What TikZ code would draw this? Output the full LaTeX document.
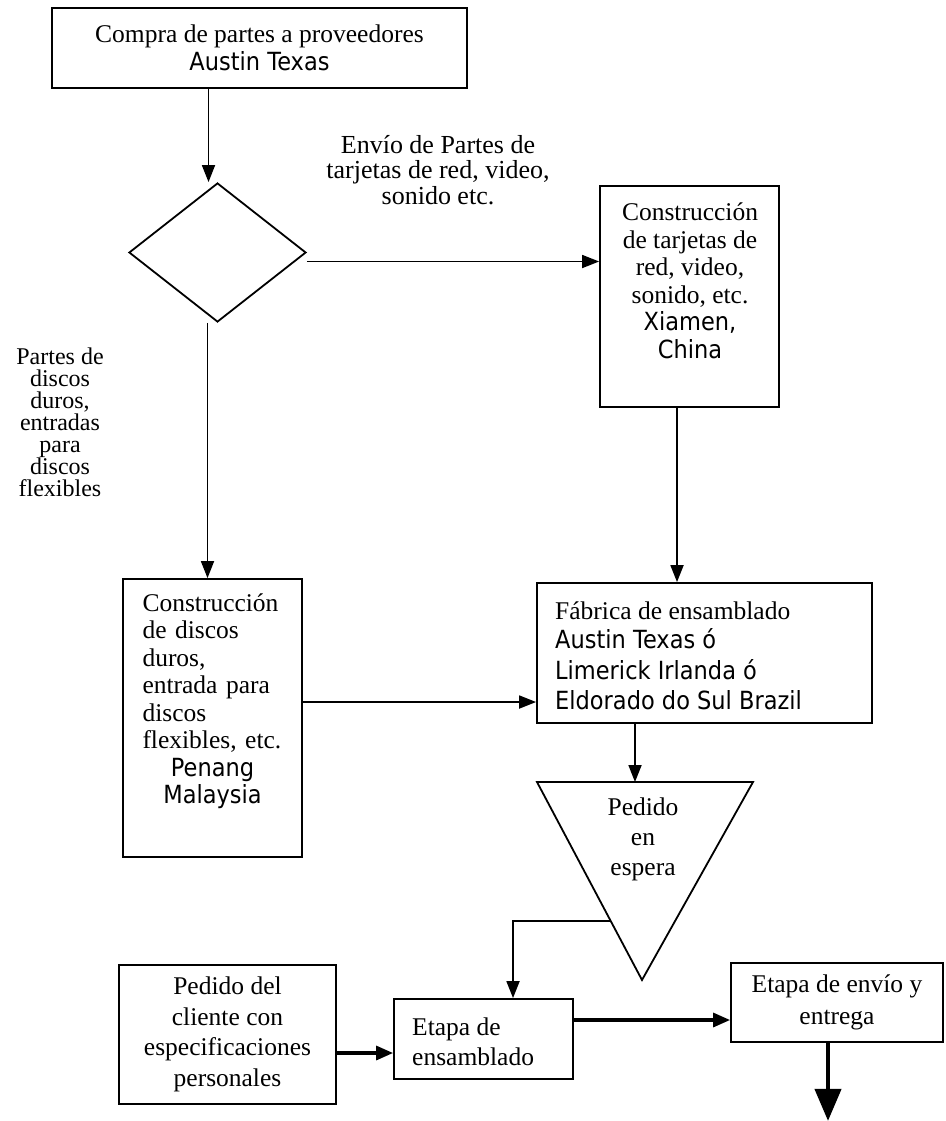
\documentclass[tikz,border=0pt]{standalone}
\usepackage{fontspec}
\setmainfont{Liberation Serif}
\newfontfamily\placefont[FakeStretch=0.9]{DejaVu Sans}
\newcommand{\plc}[1]{{\placefont\fontsize{25}{28}\selectfont #1}}
\usetikzlibrary{arrows.meta,shapes.geometric,calc}

\begin{document}
\begin{tikzpicture}[x=1pt,y=-1pt,
  every node/.style={font=\fontsize{25.5}{27.5}\selectfont, inner sep=0pt},
  box/.style={draw, line width=1.8pt, inner sep=0pt},
  arr/.style={line width=1.8pt, -{Triangle[length=17pt,width=13pt]}},
  heavy/.style={line width=3.2pt, -{Triangle[length=17pt,width=14pt]}},
  final/.style={line width=4.2pt, -{Triangle[length=32pt,width=26pt]}}
]
\useasboundingbox (0,0) rectangle (945,1121);

% --- purchase of parts
\node[box, minimum width=415pt, minimum height=80pt, align=center] (compra) at (259.5,48)
  {Compra de partes a proveedores\\\plc{Austin Texas}};

% --- decision
\node[draw, diamond, line width=1.8pt, minimum width=177pt, minimum height=139pt, inner sep=0pt] (dec) at (217.5,252.5) {};

% --- cards factory
\node[box, minimum width=179pt, minimum height=221pt] (tarjetas) at (689.5,296.5) {};
\node[align=center] (tarjetas-t) at (690,281)
  {Construcción\\de tarjetas de\\red, video,\\sonido, etc.\\\plc{Xiamen,}\\\plc{China}};

% --- disks factory
\node[box, minimum width=179pt, minimum height=278pt] (discos) at (212.5,718) {};
\node[text width=140pt, align=left] (discos-t) at (212.5,701)
  {Construcción\\de discos\\duros,\\entrada para\\discos\\flexibles, etc.\\
   \makebox[\hsize][c]{\plc{Penang}}\\
   \makebox[\hsize][c]{\plc{Malaysia}}};

% --- assembly plant
\node[box, minimum width=335pt, minimum height=140pt] (fabrica) at (704.5,653) {};
\node[anchor=west, align=left] (fabrica-t) at (555,656)
  {Fábrica de ensamblado\\[2pt]
   \plc{Austin Texas ó}\\[3pt]
   \plc{Limerick Irlanda ó}\\[3pt]
   \plc{Eldorado do Sul Brazil}};

% --- waiting orders (inverted triangle)
\coordinate (tl) at (537,782);
\coordinate (tr) at (753,782);
\coordinate (tb) at (642,980);
\draw[line width=1.8pt, line join=miter] (tl) -- (tr) -- (tb) -- cycle;
\node[align=center, font=\fontsize{25.5}{30}\selectfont] (espera) at (643,839) {Pedido\\en\\espera};

% --- customer order
\node[box, minimum width=217pt, minimum height=139pt, align=center,
      font=\fontsize{25.5}{30.5}\selectfont] (cliente) at (227.5,1034.5)
  {Pedido del\\cliente con\\especificaciones\\personales};

% --- assembly stage
\node[box, minimum width=179pt, minimum height=80pt] (ensamblado) at (483.5,1039) {};
\node[anchor=west, align=left, font=\fontsize{25.5}{30}\selectfont] (ensamblado-t) at (412,1042)
  {Etapa de\\ensamblado};

% --- shipping stage
\node[box, minimum width=212pt, minimum height=79pt, align=center,
      font=\fontsize{25.5}{31.5}\selectfont] (envio) at (837,1002.5)
  {Etapa de envío y\\entrega};

% --- flow labels
\node[align=center, font=\fontsize{26}{25.5}\selectfont] (lab-envio) at (438,170)
  {Envío de Partes de\\tarjetas de red, video,\\sonido etc.};
\node[align=center, font=\fontsize{24}{22}\selectfont] (lab-discos) at (60,422)
  {Partes de\\discos\\duros,\\entradas\\para\\discos\\flexibles};

% --- connectors
\coordinate (c1) at ($(dec.north)+(-9,0)$);
\draw[arr] (c1 |- compra.south) -- (c1);

\coordinate (c2) at ($(dec.east)+(0,9)$);
\draw[arr] (c2) -- (c2 -| tarjetas.west);

\coordinate (c3) at ($(dec.south)+(-10,0)$);
\draw[arr] (c3) -- (c3 |- discos.north);

\coordinate (c4) at ($(tarjetas.south)+(-12.5,0)$);
\draw[arr] (c4) -- (c4 |- fabrica.north);

\coordinate (c5) at ($(discos.east)+(0,-16)$);
\draw[arr] (c5) -- (c5 -| fabrica.west);

\coordinate (c6) at ($(fabrica.south)+(-69.5,0)$);
\draw[arr] (c6) -- (c6 |- tl);

\coordinate (c7) at ($(tl)!0.702!(tb)$);
\coordinate (c8) at ($(ensamblado.north)+(29.5,0)$);
\draw[arr] (c7) -| (c8);

\coordinate (c9) at ($(cliente.east)+(0,18.5)$);
\draw[heavy] (c9) -- (c9 -| ensamblado.west);

\coordinate (c10) at ($(ensamblado.east)+(0,-19)$);
\draw[heavy] (c10) -- (c10 -| envio.west);

\coordinate (c11) at ($(envio.south)+(-9,0)$);
\coordinate (salida) at ($(c11)+(0,78)$);
\draw[final] (c11) -- (salida);
\end{tikzpicture}
\end{document}
